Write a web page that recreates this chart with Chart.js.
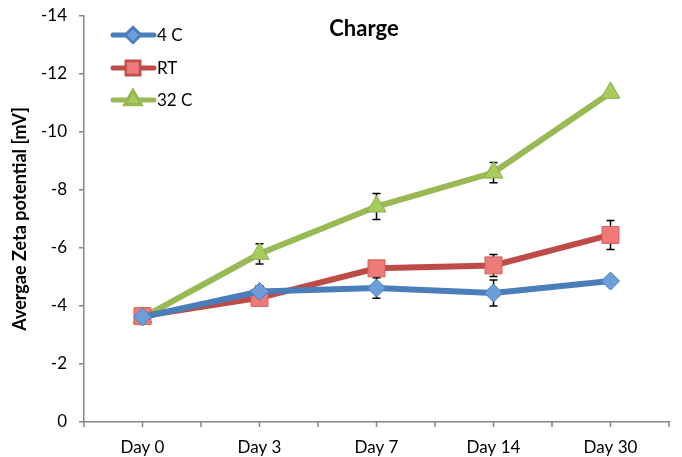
<!DOCTYPE html>
<html>
<head>
<meta charset="utf-8">
<script src="https://cdn.jsdelivr.net/npm/chart.js@4.4.0/dist/chart.umd.min.js"></script>
<style>
  html, body { margin: 0; padding: 0; background: #fff; }
  #wrap { width: 682px; height: 457px; }
</style>
</head>
<body>
<div id="wrap"><canvas id="zeta"></canvas></div>
<script>
const days = ['Day 0', 'Day 3', 'Day 7', 'Day 14', 'Day 30'];
const yTicks = [0, -2, -4, -6, -8, -10, -12, -14];

const cold = [-3.62, -4.5, -4.62, -4.45, -4.86];
const room = [-3.65, -4.28, -5.3, -5.4, -6.45];
const warm = [-3.6, -5.8, -7.43, -8.6, -11.35];

// half length of the error bars
const coldErr = [0.1, 0.2, 0.35, 0.45, 0.1];
const roomErr = [0.1, 0.15, 0.15, 0.38, 0.5];
const warmErr = [0.1, 0.35, 0.45, 0.35, 0.1];

const FONT = 'Lato, "Open Sans", sans-serif';
const AXIS = '#868686';

// error bars, drawn under the markers
const errorBars = {
  id: 'errorBars',
  beforeDatasetsDraw(chart) {
    const ctx = chart.ctx;
    const y = chart.scales.y;
    const x = chart.scales.x;
    const errs = [coldErr, roomErr, warmErr];
    ctx.save();
    ctx.strokeStyle = '#000';
    ctx.lineWidth = 1.5;
    chart.data.datasets.forEach((ds, d) => {
      ds.data.forEach((v, i) => {
        const px = x.getPixelForValue(i);
        const top = y.getPixelForValue(v - errs[d][i]);
        const bot = y.getPixelForValue(v + errs[d][i]);
        ctx.beginPath();
        ctx.moveTo(px, top); ctx.lineTo(px, bot);
        ctx.moveTo(px - 4, top); ctx.lineTo(px + 4, top);
        ctx.moveTo(px - 4, bot); ctx.lineTo(px + 4, bot);
        ctx.stroke();
      });
    });
    ctx.restore();
  }
};

// x tick marks at category centres and boundaries, legend and title in the plot
const extras = {
  id: 'extras',
  afterDraw(chart) {
    const ctx = chart.ctx;
    const x = chart.scales.x;
    const bottom = chart.chartArea.bottom;
    ctx.save();
    ctx.strokeStyle = AXIS;
    ctx.lineWidth = 1.5;
    for (let k = -0.5; k <= days.length - 0.5; k += 0.5) {
      const px = x.getPixelForValue(k);
      ctx.beginPath();
      ctx.moveTo(px, bottom);
      ctx.lineTo(px, bottom + 5);
      ctx.stroke();
    }

    // title
    ctx.fillStyle = '#000';
    ctx.font = 'bold 22px ' + FONT;
    ctx.textAlign = 'center';
    ctx.textBaseline = 'middle';
    ctx.fillText('Charge', 364, 29);

    // legend
    const rows = [35, 68, 100];
    ctx.font = '17px ' + FONT;
    ctx.textAlign = 'left';
    chart.data.datasets.forEach((ds, d) => {
      const ly = rows[d];
      ctx.strokeStyle = ds.borderColor;
      ctx.lineWidth = 5;
      ctx.lineCap = 'round';
      ctx.beginPath();
      ctx.moveTo(113, ly);
      ctx.lineTo(154, ly);
      ctx.stroke();
      Chart.helpers.drawPoint(ctx, {
        pointStyle: ds.pointStyle,
        radius: ds.pointRadius * 0.7,
        borderWidth: 1
      }, 133, ly);
      ctx.fillStyle = ds.pointBackgroundColor;
      ctx.strokeStyle = ds.pointBorderColor;
      ctx.lineWidth = 1;
      ctx.fill();
      ctx.stroke();
      ctx.fillStyle = '#000';
      ctx.fillText(ds.label, 157, ly + 1);
    });
    ctx.restore();
  }
};

new Chart(document.getElementById('zeta'), {
  type: 'line',
  data: {
    labels: days,
    datasets: [
      {
        label: '4 C',
        data: cold,
        borderColor: '#4A7EBB',
        borderWidth: 6,
        pointStyle: 'rectRot',
        pointRadius: 9,
        pointHoverRadius: 9,
        pointBackgroundColor: '#6E9ED9',
        pointBorderColor: '#4A7EBB',
        pointBorderWidth: 1
      },
      {
        label: 'RT',
        data: room,
        borderColor: '#BE4B48',
        borderWidth: 6,
        pointStyle: 'rect',
        pointRadius: 12,
        pointHoverRadius: 12,
        pointBackgroundColor: '#EE7B7A',
        pointBorderColor: '#D4605D',
        pointBorderWidth: 1
      },
      {
        label: '32 C',
        data: warm,
        borderColor: '#98B954',
        borderWidth: 6,
        pointStyle: 'triangle',
        pointRadius: 11,
        pointHoverRadius: 11,
        pointBackgroundColor: '#A8CB5E',
        pointBorderColor: '#8DAF4C',
        pointBorderWidth: 1
      }
    ]
  },
  options: {
    responsive: true,
    maintainAspectRatio: false,
    animation: false,
    layout: {
      padding: { left: 0, top: 16, right: 7, bottom: 0 }
    },
    plugins: {
      legend: { display: false },
      title: { display: false },
      tooltip: { enabled: false }
    },
    scales: {
      x: {
        offset: true,
        grid: { display: false },
        border: { display: true, color: AXIS, width: 1.5 },
        ticks: {
          color: '#000',
          font: { family: FONT, size: 17 },
          padding: 7,
          maxRotation: 0
        },
        afterFit: (s) => {
          s.height = 35;
          s.paddingLeft = 0;
          s.paddingRight = 0;
        }
      },
      y: {
        min: -14,
        max: 0,
        reverse: true,
        afterBuildTicks: (s) => { s.ticks = yTicks.map(v => ({ value: v })); },
        grid: {
          drawOnChartArea: false,
          tickLength: 5,
          color: AXIS,
          lineWidth: 1.5
        },
        border: { display: true, color: AXIS, width: 1.5 },
        ticks: {
          color: '#000',
          font: { family: FONT, size: 17 },
          padding: 12
        },
        title: {
          display: true,
          text: 'Avergae Zeta potential [mV]',
          color: '#000',
          font: { family: FONT, size: 18, weight: 'bold' },
          padding: { top: 9, bottom: 0 }
        },
        afterFit: (s) => {
          s.width = 84;
          s.paddingTop = 0;
          s.paddingBottom = 0;
        }
      }
    }
  },
  plugins: [errorBars, extras]
});
</script>
</body>
</html>
